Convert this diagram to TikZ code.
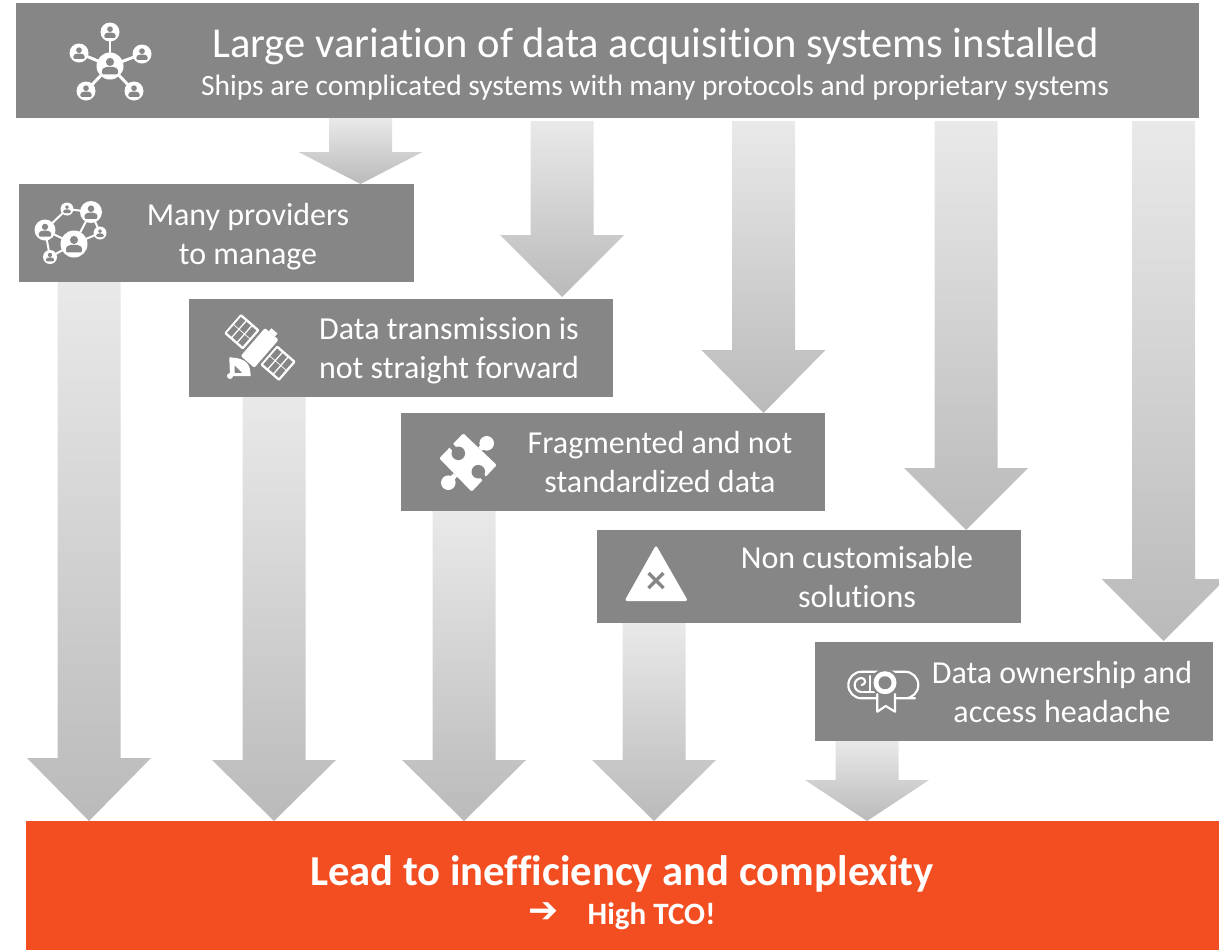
\documentclass[tikz,border=0pt]{standalone}
\usepackage{fontspec}
\setmainfont{Carlito}[Ligatures=CommonOff]
\newfontfamily\symfont{DejaVu Sans}
\usetikzlibrary{backgrounds,calc}
\definecolor{boxgray}{HTML}{868686}
\definecolor{redbox}{HTML}{F34E22}
\definecolor{arrowtop}{HTML}{E9E9E9}
\definecolor{arrowbot}{HTML}{BABABA}
\tikzset{
  panel/.style={fill=boxgray,draw=none,inner sep=0pt,outer sep=0pt},
  labeltext/.style={text=white,align=center,inner sep=0pt,font=\fontsize{24}{29.25}\selectfont},
  iconline/.style={draw=white,line width=2.2pt},
  thinicon/.style={draw=white,line width=1.6pt,line cap=round,line join=round},
  blockfill/.style={top color=arrowtop,bottom color=arrowbot,draw=none},
}
% #1 centre x (px), #2 source node, #3 gap below source (px), #4 target node, #5 gap above target (px), #6 head length (px)
\newcommand{\blockarrow}[6]{%
  \path[blockfill] let \p1=(#2.south), \p2=(#4.north),
    \n1={\y1-(#3)*0.75pt}, \n2={\y2+(#5)*0.75pt}, \n3={\y2+(#5)*0.75pt+(#6)*0.75pt} in
    ({(#1-31.5)*0.75pt},\n1) -- ({(#1+31.5)*0.75pt},\n1) -- ({(#1+31.5)*0.75pt},\n3)
    -- ({(#1+62)*0.75pt},\n3) -- ({#1*0.75pt},\n2) -- ({(#1-62)*0.75pt},\n3)
    -- ({(#1-31.5)*0.75pt},\n3) -- cycle;}
\newcommand{\boxat}[5]{\node[panel,anchor=north west,minimum width={(#4-#2)*0.75pt},minimum height={(#5-#3)*0.75pt}] (#1) at (#2,#3) {};}
\newcommand{\persondot}[3]{%
  \fill[white] (#1,#2) circle[radius=#3];
  \fill[boxgray] (#1,{#2-0.3*#3}) circle[radius={0.3*#3}];
  \fill[boxgray,rounded corners=0.8pt] ({#1-0.58*#3},{#2+0.62*#3}) -- ({#1-0.58*#3},{#2+0.22*#3}) -- ({#1-0.25*#3},{#2+0.06*#3}) -- ({#1+0.25*#3},{#2+0.06*#3}) -- ({#1+0.58*#3},{#2+0.22*#3}) -- ({#1+0.58*#3},{#2+0.62*#3}) -- cycle;}
\begin{document}
\begin{tikzpicture}[x=0.75pt,y=-0.75pt]
\useasboundingbox (0,0) rectangle (1219,950);
% boxes
\boxat{top}{16}{3}{1199}{118}
\boxat{bone}{19}{184}{414}{282}
\boxat{btwo}{189}{299}{613}{397}
\boxat{bthree}{401}{413}{825}{511}
\boxat{bfour}{597}{530}{1021}{623}
\boxat{bfive}{815}{642}{1213}{741}
\node[anchor=north west,fill=redbox,inner sep=0pt,outer sep=0pt,minimum width={1193*0.75pt},minimum height={129*0.75pt}] (red) at (26,821) {};
% block arrows
\begin{scope}[on background layer]
\clip (0,0) rectangle (1219,950);
\blockarrow{360.5}{top}{0}{bone}{0}{32}
\blockarrow{562}{top}{3}{btwo}{2}{62}
\blockarrow{763.5}{top}{3}{bthree}{0}{63}
\blockarrow{966}{top}{3}{bfour}{0}{62}
\blockarrow{1163.5}{top}{3}{bfive}{1}{62}
\blockarrow{89}{bone}{0}{red}{0}{63}
\blockarrow{274}{btwo}{0}{red}{0}{61}
\blockarrow{464}{bthree}{0}{red}{0}{61}
\blockarrow{654}{bfour}{0}{red}{0}{61}
\blockarrow{867}{bfive}{0}{red}{0}{41}
\end{scope}
% texts
\node[text=white,inner sep=0pt,font=\fontsize{31.95}{36}\selectfont] (ttitle) at (655.5,46) {Large variation of data acquisition systems installed};
\node[text=white,inner sep=0pt,font=\fontsize{22.1}{24}\selectfont] (tsub) at (655,88) {Ships are complicated systems with many protocols and proprietary systems};
\node[labeltext] (tone) at (248,236.5) {Many providers\\to manage};
\node[labeltext] (ttwo) at (449,351) {Data transmission is\\not straight forward};
\node[labeltext] (tthree) at (660,462) {Fragmented and not\\standardized data};
\node[labeltext] (tfour) at (857,577) {Non customisable\\solutions};
\node[labeltext] (tfive) at (1062,692) {Data ownership and\\access headache};
\node[text=white,inner sep=0pt,font=\bfseries\fontsize{32}{34}\selectfont] (tred) at (622,874) {Lead to inefficiency and complexity};
\node[text=white,inner sep=0pt,font=\symfont\bfseries\fontsize{27}{30}\selectfont] (tarrow) at (543.5,913) {➔};
\node[text=white,inner sep=0pt,font=\bfseries\fontsize{23.3}{24}\selectfont] (ttco) at (651.5,916) {High TCO!};
% icon: star network
\foreach \a/\b in {79/53,142/54,86/91,134/91,110/32}{\draw[iconline] (110,66) -- (\a,\b);}
\persondot{110}{66}{13.5}
\persondot{110}{32}{9.5}
\persondot{79}{53}{9.5}
\persondot{142}{54}{9.5}
\persondot{86}{91}{9.5}
\persondot{134}{91}{9.5}
% icon: mesh network
\foreach \p/\q/\r/\s in {45/230/67/209,67/209/91/212,91/212/74/244,45/230/74/244,100/233/74/244,91/212/100/233,45/230/50/257,50/257/74/244}{\draw[draw=white,line width=1.5pt] (\p,\q) -- (\r,\s);}
\persondot{45}{230}{10.5}
\persondot{91}{212}{11}
\persondot{67}{209}{6.5}
\persondot{100}{233}{6.5}
\persondot{74}{244}{13.5}
\persondot{50}{257}{7}
% icon: satellite
\begin{scope}[shift={(260,347.5)},rotate=-41]
  \foreach \c in {-24,24}{
    \fill[white,rounded corners=1pt] ({\c-12.5},-13) rectangle ({\c+12.5},13);
    \foreach \i in {0,1,2}{\foreach \j in {0,1}{
      \fill[boxgray] ({\c-10.5+\i*7.4},{-10.5+\j*11}) rectangle ({\c-10.5+\i*7.4+5.8},{-10.5+\j*11+10});}}
  }
  \fill[white,rounded corners=1pt] (-9,-18) rectangle (9,19);
  \fill[white] (-4,-22) rectangle (4,-18);
\end{scope}
\path[fill=white,even odd rule] (229.3,357.3) .. controls (248.3,358.3) and (250,365) .. (250.7,376) -- (230,376) -- cycle
  (234.5,365) -- (242.5,373) -- (234.5,373) -- cycle;
\fill[white] (230,376) circle[radius=3];
% icon: puzzle
\fill[white,rounded corners=1pt] (463.3,433.3) -- (496.7,465) -- (471.7,491.7) -- (439.3,458.3) -- cycle;
\fill[white] (486.7,443.3) circle[radius=7.3];
\fill[white] (448.3,482.7) circle[radius=7.3];
\draw[white,line width=3.8pt] (480,449) -- (486.7,443.3) (455.3,475) -- (448.3,482.7);
\fill[boxgray] (458.3,453.3) circle[radius=6.8];
\fill[boxgray] (478.3,471.7) circle[radius=6.8];
\draw[boxgray,line width=3.8pt] (458.3,453.3) -- (450.3,444.7) (478.3,471.7) -- (485,479.3);
% icon: warning triangle
\fill[white,rounded corners=2pt] (656,545) -- (688,601) -- (624.5,601) -- cycle;
\draw[boxgray,line width=2.6pt] (648.5,573) -- (663.5,588) (663.5,573) -- (648.5,588);
% icon: diploma
\draw[thinicon] (915,698.3) -- (861.6,698.3) arc[start angle=90,end angle=270,radius=13.3] -- (905,671.7) arc[start angle=270,end angle=450,radius=13.3];
\draw[thinicon] (861.6,692) arc[start angle=90,end angle=270,radius=7] arc[start angle=270,end angle=450,radius=3.5];
\draw[thinicon] (870,676) -- (870,692);
\draw[thinicon] (863,692) -- (877,692);
\fill[boxgray] (885,682.7) circle[radius=14];
\fill[white] (885,682.7) circle[radius=11.5];
\fill[boxgray] (885,682.7) circle[radius=6.5];
\draw[thinicon,fill=boxgray] (877.3,694) -- (877.3,711.7) -- (885.7,706) -- (895,711.7) -- (895,694);
\end{tikzpicture}
\end{document}
